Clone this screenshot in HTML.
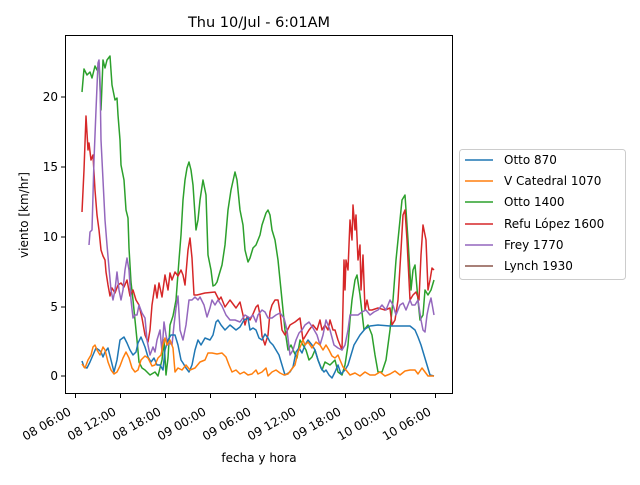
<!DOCTYPE html>
<html><head><meta charset="utf-8"><style>
body{margin:0;background:#fff}
svg{font-family:"DejaVu Sans","Liberation Sans",sans-serif}
</style></head><body>
<svg width="640" height="480" viewBox="0 0 640 480">
<rect width="640" height="480" fill="#fff"/>
<text x="259" y="27" font-size="14.5" text-anchor="middle">Thu 10/Jul - 6:01AM</text>
<g fill="none" stroke-width="1.5" stroke-linejoin="round">
<polyline stroke="#2ca02c" points="82,92 84,69 87,75 90,72 92,78 95,66 97,70 99,63 101,110 103,60 105,68 107,60 110,56 112,85 115,100 117,98 118,115 120,140 121,165 124,180 126,210 128,218 129,248 131,282 133,300 135,320 137,340 139,362 142,368 145,370 150,375 155,372 158,376 162,360 164,340 166,375 168,358 170,325 173,316 176,300 179,260 181,235 183,200 185,180 187,168 189,162 191,170 193,185 196,230 198,220 200,200 203,180 206,195 208,255 211,270 213,286 215,285 217,282 219,275 222,265 225,245 228,210 231,190 235,172 237,180 240,210 243,225 245,250 248,262 250,258 253,248 256,245 258,240 260,235 262,225 266,213 268,210 270,215 272,230 275,240 278,260 280,280 283,310 285,330 288,350 291,345 294,352 297,358 300,340 303,345 306,350 309,360 312,357 315,350 318,360 320,365 322,370 325,362 330,365 335,360 338,372 342,375 345,365 348,345 350,320 352,300 355,280 357,275 360,295 364,330 368,325 372,335 375,355 378,372 382,372 386,360 390,330 393,300 396,260 399,230 402,200 405,195 408,240 411,290 413,270 415,265 418,300 420,320 423,315 425,290 428,295 431,290 434,280"/>
<polyline stroke="#d62728" points="82,212 84,170 86,116 88,150 89,143 91,160 93,155 95,190 97,215 99,230 101,250 103,256 105,260 106,272 108,285 110,296 112,288 115,293 118,285 121,283 124,287 127,280 130,296 133,290 136,300 139,305 142,318 145,335 148,342 150,330 152,305 155,285 157,298 159,283 162,297 165,275 168,290 170,273 172,280 175,272 178,276 181,270 183,275 185,285 188,250 190,238 192,258 194,295 197,295 205,293 215,292 219,300 221,297 225,307 230,300 236,308 240,302 243,315 245,325 247,317 250,320 253,314 256,307 258,305 260,315 262,336 265,345 268,335 270,312 272,305 275,300 278,300 280,312 282,330 285,335 290,325 295,322 300,318 303,340 306,335 309,330 313,325 317,330 320,320 322,330 325,325 328,330 330,320 333,330 335,330 338,340 340,345 342,350 344,260 345,290 346,260 348,270 350,220 352,240 353,205 355,230 356,215 358,260 360,245 361,290 363,255 365,310 367,300 369,310 372,310 378,308 385,310 390,308 392,325 395,320 398,300 401,250 403,215 405,210 407,240 410,300 413,295 416,292 419,300 421,255 423,225 426,240 428,290 430,280 432,268 434,270"/>
<polyline stroke="#9467bd" points="89,245 90,232 92,230 94,160 96,110 98,63 99,60 100,80 101,140 103,180 105,220 107,245 109,268 111,290 113,300 115,290 117,272 119,290 121,300 123,290 125,270 127,258 129,270 131,300 133,318 135,315 137,315 139,305 142,313 145,318 147,340 150,355 153,347 155,352 157,340 160,330 162,352 164,322 166,335 168,345 170,343 172,345 174,325 176,308 178,296 180,330 183,340 186,325 189,300 192,300 195,297 198,300 200,297 204,305 207,317 210,308 212,300 215,305 218,300 222,306 226,315 230,320 235,320 240,322 245,315 250,318 253,315 256,322 258,315 262,310 265,312 268,318 272,318 276,315 280,313 284,318 287,330 290,355 293,350 296,340 299,333 302,330 305,325 309,322 313,328 317,335 320,345 323,335 326,320 330,330 334,345 338,348 342,350 345,345 348,330 350,315 354,315 358,315 362,312 366,310 370,315 374,312 378,310 382,305 386,310 390,300 393,305 396,315 400,305 403,303 406,310 410,300 412,305 415,305 418,300 421,320 423,330 425,332 427,315 429,305 431,298 434,315"/>
<polyline stroke="#1f77b4" points="82,361 84,367 87,368 90,362 93,355 96,348 99,350 101,352 103,357 105,352 108,348 111,360 114,372 117,360 120,340 124,337 127,343 130,350 133,355 136,352 138,343 141,337 145,347 148,357 151,362 154,358 157,365 160,365 163,370 165,350 168,340 171,335 175,335 178,345 181,360 183,363 186,368 189,372 192,365 195,350 198,340 201,345 205,338 210,340 213,335 216,322 218,320 221,325 225,330 230,325 236,330 240,327 244,320 248,318 250,330 253,328 256,330 259,338 262,340 265,334 268,338 270,342 273,345 276,350 279,355 282,365 285,375 290,372 293,367 296,352 299,348 302,353 305,345 308,340 312,345 315,350 318,360 321,368 324,372 326,370 329,375 332,378 335,372 338,365 341,374 345,370 348,365 351,355 354,345 357,340 360,335 365,329 370,326 378,325 390,326 400,326 410,326 415,330 418,337 421,345 424,355 427,365 430,375 434,376"/>
<polyline stroke="#ff7f0e" points="82,364 85,368 88,360 91,355 93,347 95,345 97,350 100,355 103,347 105,350 108,362 111,370 114,374 117,372 120,366 123,358 126,352 129,358 132,368 135,372 138,370 141,360 145,356 148,358 152,366 155,365 158,358 161,355 163,345 165,338 167,345 170,340 173,348 175,372 178,368 182,370 186,365 190,370 195,368 200,362 205,360 208,353 212,353 217,354 222,353 226,357 229,365 232,372 236,370 240,374 244,372 248,375 252,374 256,370 258,374 262,372 266,368 268,376 272,372 276,370 280,373 284,375 288,374 291,370 295,365 298,352 301,345 303,340 305,345 308,342 312,348 316,342 320,345 323,350 326,345 329,350 332,356 335,358 338,355 340,360 343,367 346,370 350,375 355,373 360,376 365,372 370,375 375,375 380,372 385,376 390,374 395,371 400,375 405,371 410,370 415,370 418,374 422,368 425,372 428,376 434,376"/>
</g>
<rect x="65.5" y="35.5" width="387" height="358" fill="none" stroke="#000" stroke-width="1"/>
<g stroke="#000" stroke-width="1">
<line x1="61" y1="376" x2="65" y2="376"/><line x1="61" y1="307" x2="65" y2="307"/><line x1="61" y1="237" x2="65" y2="237"/><line x1="61" y1="167" x2="65" y2="167"/><line x1="61" y1="97" x2="65" y2="97"/>
<line x1="75.5" y1="394" x2="75.5" y2="398"/><line x1="120.5" y1="394" x2="120.5" y2="398"/><line x1="165.5" y1="394" x2="165.5" y2="398"/><line x1="210.5" y1="394" x2="210.5" y2="398"/><line x1="255.5" y1="394" x2="255.5" y2="398"/><line x1="300.5" y1="394" x2="300.5" y2="398"/><line x1="345.5" y1="394" x2="345.5" y2="398"/><line x1="390.5" y1="394" x2="390.5" y2="398"/><line x1="435.5" y1="394" x2="435.5" y2="398"/>
</g>
<g font-size="12" text-anchor="end">
<text x="58" y="380">0</text><text x="58" y="311">5</text><text x="58" y="241">10</text><text x="58" y="171">15</text><text x="58" y="101">20</text>
</g>
<g font-size="12" text-anchor="end">
<text transform="translate(72,414) rotate(-30)">08 06:00</text>
<text transform="translate(117,414) rotate(-30)">08 12:00</text>
<text transform="translate(162,414) rotate(-30)">08 18:00</text>
<text transform="translate(207,414) rotate(-30)">09 00:00</text>
<text transform="translate(252,414) rotate(-30)">09 06:00</text>
<text transform="translate(297,414) rotate(-30)">09 12:00</text>
<text transform="translate(342,414) rotate(-30)">09 18:00</text>
<text transform="translate(387,414) rotate(-30)">10 00:00</text>
<text transform="translate(432,414) rotate(-30)">10 06:00</text>
</g>
<text x="259" y="462" font-size="12" text-anchor="middle">fecha y hora</text>
<text transform="translate(28,215) rotate(-90)" font-size="12" text-anchor="middle">viento [km/hr]</text>
<rect x="459.5" y="149.5" width="166" height="130" rx="3" fill="#fff" stroke="#ccc"/>
<g stroke-width="1.5">
<line x1="465" y1="160" x2="493" y2="160" stroke="#1f77b4"/>
<line x1="465" y1="181" x2="493" y2="181" stroke="#ff7f0e"/>
<line x1="465" y1="202" x2="493" y2="202" stroke="#2ca02c"/>
<line x1="465" y1="224" x2="493" y2="224" stroke="#d62728"/>
<line x1="465" y1="245" x2="493" y2="245" stroke="#9467bd"/>
<line x1="465" y1="266" x2="493" y2="266" stroke="#8c564b"/>
</g>
<g font-size="12">
<text x="504" y="164">Otto 870</text>
<text x="504" y="185">V Catedral 1070</text>
<text x="504" y="206">Otto 1400</text>
<text x="504" y="228">Refu López 1600</text>
<text x="504" y="249">Frey 1770</text>
<text x="504" y="270">Lynch 1930</text>
</g>
</svg>
</body></html>
